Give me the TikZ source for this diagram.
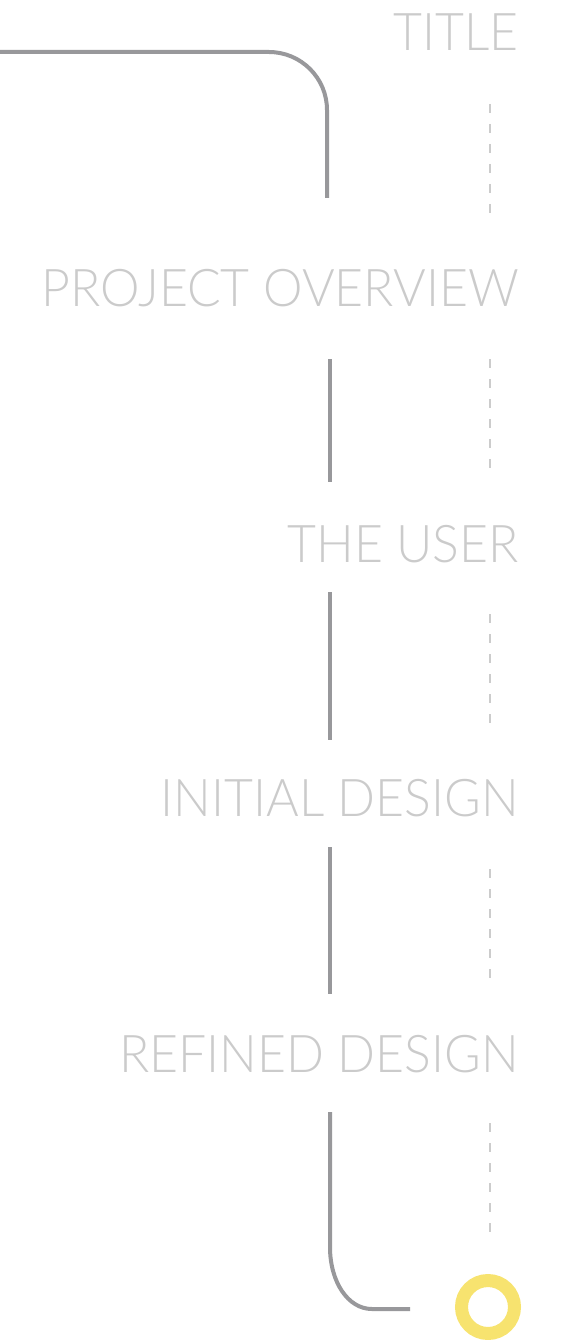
\documentclass[tikz,border=0pt]{standalone}
\usepackage{fontspec}
\newfontfamily\headfont{Lato}[UprightFont=* Light,FakeStretch=0.96]
\definecolor{trackgrey}{HTML}{98989B}
\definecolor{guidegrey}{HTML}{CCCCCC}
\definecolor{headgrey}{HTML}{CBCBCB}
\definecolor{dotyellow}{HTML}{F7E36F}

\begin{document}
\begin{tikzpicture}[x=1pt,y=-1pt]
      \tikzset{
        heading/.style={anchor=base east,inner sep=0pt,text=headgrey,font=\headfont\fontsize{52}{52}\selectfont},
        track/.style={draw=trackgrey,line width=4pt},
        guide/.style={draw=guidegrey,line width=2pt,dash pattern=on 9pt off 11pt}
      }
      \useasboundingbox (0,0) rectangle (560,1340);

      \node[heading] (title) at (519,51) {TITLE};
      \node[heading] (overview) at (519,306) {PROJECT OVERVIEW};
      \node[heading] (user) at (519,562) {THE USER};
      \node[heading] (initial) at (519,816) {INITIAL DESIGN};
      \node[heading] (refined) at (519,1072) {REFINED DESIGN};

      \coordinate (s0) at (0,52);
      \coordinate (s1) at (327,198);
      \coordinate (s2) at (330,359);
      \coordinate (s3) at (330,482);
      \coordinate (s4) at (330,592);
      \coordinate (s5) at (330,740);
      \coordinate (s6) at (330,847);
      \coordinate (s7) at (330,994);
      \coordinate (s8) at (330,1112);
      \coordinate (s9) at (410,1309);

      \node[circle,draw=dotyellow,line width=13pt,minimum size=53pt,inner sep=0pt] (finish) at (488,1307) {};

      \draw[track,rounded corners=58pt] (s0) -- (s0 -| s1) -- (s1);
      \draw[track] (s2) -- (s3)
                   (s4) -- (s5)
                   (s6) -- (s7);
      \draw[track] (s8) -- (330,1247) .. controls (330,1282) and (348,1309) .. (372,1309) -- (s9);

      \draw[guide] (490,104) -- (490,215)
                   (490,359) -- (490,470)
                   (490,614) -- (490,725)
                   (490,869) -- (490,980)
                   (490,1123) -- (490,1235);
    \end{tikzpicture}
\end{document}
